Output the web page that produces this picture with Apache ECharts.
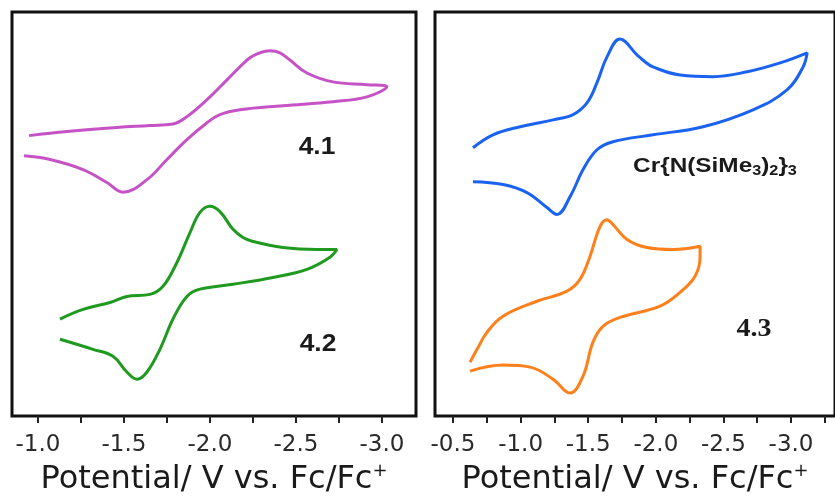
<!DOCTYPE html>
<html>
<head>
<meta charset="utf-8">
<script src="https://cdn.jsdelivr.net/npm/echarts@6/dist/echarts.min.js"></script>
<style>
  html, body { margin: 0; padding: 0; background: #fff; }
  #chart { width: 835px; height: 497px; }
</style>
</head>
<body>
<div id="chart"></div>
<script>
// ============================================================
// Cyclic voltammograms, two panels
// potentials in V vs Fc/Fc+, currents in arbitrary units (0-100)
// ============================================================

// --- left panel: 4.1 (magenta) ---
var cv41Potential = [-0.948, -1.169, -1.459, -1.651, -1.785, -1.866, -1.983, -2.099, -2.215, -2.262, -2.349, -2.407, -2.465, -2.564, -2.715, -2.913, -3.029,
  -2.913, -2.715, -2.424, -2.174, -2.058, -1.983, -1.866, -1.750, -1.634, -1.494, -1.401, -1.262, -1.070, -0.919];
var cv41Current = [69.4, 70.4, 71.4, 71.9, 72.3, 74.1, 78.3, 83.2, 88.1, 89.4, 90.4, 89.9, 88.1, 84.9, 82.7, 82.0, 81.5,
  79.0, 77.8, 76.8, 75.8, 74.6, 72.6, 68.4, 63.5, 58.5, 55.4, 57.8, 61.0, 63.5, 64.4];

// --- left panel: 4.2 (green) ---
var cv42Potential = [-1.128, -1.262, -1.419, -1.517, -1.651, -1.727, -1.808, -1.884, -1.942, -2.000, -2.058, -2.134, -2.192, -2.250, -2.424, -2.622, -2.738,
  -2.698, -2.564, -2.366, -2.134, -1.942, -1.866, -1.785, -1.709, -1.634, -1.576, -1.517, -1.436, -1.320, -1.128];
var cv42Current = [24.0, 26.4, 28.1, 29.6, 30.1, 32.1, 38.0, 45.4, 50.4, 51.9, 50.6, 46.2, 44.2, 43.2, 41.7, 41.2, 41.2,
  39.3, 36.3, 34.3, 32.6, 31.4, 29.6, 24.0, 16.5, 10.9, 9.1, 10.9, 14.8, 16.5, 19.0];

// --- right panel: Cr{N(SiMe3)2}3 (blue) ---
var crPotential = [-0.648, -0.796, -0.996, -1.240, -1.388, -1.491, -1.565, -1.639, -1.735, -1.861, -1.920, -1.979, -2.179, -2.423, -2.675, -2.919, -3.119,
  -3.089, -2.970, -2.719, -2.349, -1.979, -1.683, -1.565, -1.462, -1.366, -1.269, -1.195, -1.047, -0.870, -0.648];
var crCurrent = [66.4, 69.6, 71.6, 73.3, 74.6, 77.5, 82.5, 88.9, 93.3, 89.4, 87.7, 86.4, 84.4, 84.0, 85.2, 87.4, 89.9,
  86.4, 80.7, 75.8, 71.6, 69.6, 67.9, 65.9, 61.0, 54.3, 49.9, 51.6, 55.3, 57.3, 58.0];

// --- right panel: 4.3 (orange) ---
var cv43Potential = [-0.626, -0.678, -0.751, -0.870, -1.121, -1.343, -1.439, -1.513, -1.587, -1.639, -1.683, -1.787, -1.935, -2.127, -2.327,
  -2.327, -2.290, -2.179, -2.031, -1.735, -1.609, -1.535, -1.462, -1.365, -1.240, -1.070, -0.870, -0.626];
var cv43Current = [13.3, 16.5, 20.7, 24.7, 28.4, 30.9, 33.8, 39.5, 46.9, 48.6, 47.4, 43.7, 41.7, 41.2, 42.0,
  39.3, 34.6, 30.6, 27.2, 24.4, 22.2, 18.3, 9.9, 5.7, 9.1, 12.1, 12.6, 11.1];

// --- axes ---
var leftTicks = [-1.0, -1.25, -1.5, -1.75, -2.0, -2.25, -2.5, -2.75, -3.0];
var leftLabels = [-1.0, -1.5, -2.0, -2.5, -3.0];
var rightTicks = [-0.5, -0.75, -1.0, -1.25, -1.5, -1.75, -2.0, -2.25, -2.5, -2.75, -3.0, -3.25];
var rightLabels = [-0.5, -1.0, -1.5, -2.0, -2.5, -3.0];
var leftRange = [-3.198, -0.849];
var rightRange = [-3.325, -0.367];

var COLORS = { cv41: '#c653c6', cv42: '#1f9a1f', cr: '#1a62f0', cv43: '#ff7f1a' };

function pairs(xs, ys) {
  return xs.map(function(x, i) { return [x, ys[i]]; });
}

function makeXAxis(gridIndex, range, ticks, labels) {
  return {
    type: 'value',
    gridIndex: gridIndex,
    inverse: true,
    min: range[0],
    max: range[1],
    axisLine: { show: false },
    splitLine: { show: false },
    axisTick: { show: true, inside: false, length: 7, customValues: ticks, lineStyle: { color: '#222', width: 2 } },
    axisLabel: {
      customValues: labels,
      margin: 18,
      fontFamily: 'DejaVu Sans',
      fontSize: 23,
      color: '#2a2a2a',
      formatter: function(v) { return v.toFixed(1); }
    },
    name: '{t|Potential/ V vs. Fc/Fc}{p|+}',
    nameLocation: 'middle',
    nameGap: 46,
    nameTextStyle: {
      rich: {
        t: { fontFamily: 'DejaVu Sans', fontSize: 32, lineHeight: 36, color: '#1a1a1a' },
        p: { fontFamily: 'DejaVu Sans', fontSize: 18, lineHeight: 12, verticalAlign: 'top', color: '#1a1a1a' }
      }
    }
  };
}

function makeYAxis(gridIndex) {
  return { type: 'value', gridIndex: gridIndex, min: 0, max: 100, show: false };
}

function makeSeries(name, xIdx, xs, ys, color) {
  return {
    name: name,
    type: 'line',
    xAxisIndex: xIdx,
    yAxisIndex: xIdx,
    data: pairs(xs, ys),
    smooth: 0.4,
    showSymbol: false,
    lineStyle: { color: color, width: 3 },
    itemStyle: { color: color }
  };
}

var chart = echarts.init(document.getElementById('chart'));

chart.setOption({
  animation: false,
  grid: [
    { left: 12, top: 12, width: 404, height: 404, outerBoundsMode: 'none', containLabel: false, show: true, borderColor: '#111', borderWidth: 3, backgroundColor: 'transparent' },
    { left: 435, top: 12, width: 400, height: 404, outerBoundsMode: 'none', containLabel: false, show: true, borderColor: '#111', borderWidth: 3, backgroundColor: 'transparent' }
  ],
  xAxis: [
    makeXAxis(0, leftRange, leftTicks, leftLabels),
    makeXAxis(1, rightRange, rightTicks, rightLabels)
  ],
  yAxis: [makeYAxis(0), makeYAxis(1)],
  series: [
    makeSeries('4.1', 0, cv41Potential, cv41Current, COLORS.cv41),
    makeSeries('4.2', 0, cv42Potential, cv42Current, COLORS.cv42),
    makeSeries('Cr{N(SiMe3)2}3', 1, crPotential, crCurrent, COLORS.cr),
    makeSeries('4.3', 1, cv43Potential, cv43Current, COLORS.cv43)
  ],
  graphic: [
    { type: 'text', x: 317, y: 147, scaleX: 1.1, style: { text: '4.1', font: 'bold 24px "Liberation Sans"', fill: '#1a1a1a', align: 'center', verticalAlign: 'middle' } },
    { type: 'text', x: 318, y: 344, scaleX: 1.1, style: { text: '4.2', font: 'bold 24px "Liberation Sans"', fill: '#1a1a1a', align: 'center', verticalAlign: 'middle' } },
    { type: 'text', x: 754, y: 330, scaleX: 1.12, style: { text: '4.3', font: 'bold 25px "Liberation Serif"', fill: '#1a1a1a', align: 'center', verticalAlign: 'middle' } },
    {
      type: 'text', x: 715, y: 166, scaleX: 1.16,
      style: {
        text: '{a|Cr{N(SiMe}{s|3}{a|)}{s|2}}{s|3}',
        font: 'bold 21px "Liberation Sans"',
        fill: '#1a1a1a',
        align: 'center',
        verticalAlign: 'middle',
        rich: {
          a: { font: 'bold 21px "Liberation Sans"', lineHeight: 24, fill: '#1a1a1a' },
          s: { font: 'bold 14px "Liberation Sans"', lineHeight: 10, verticalAlign: 'bottom', fill: '#1a1a1a' }
        }
      }
    }
  ]
});
</script>
</body>
</html>
